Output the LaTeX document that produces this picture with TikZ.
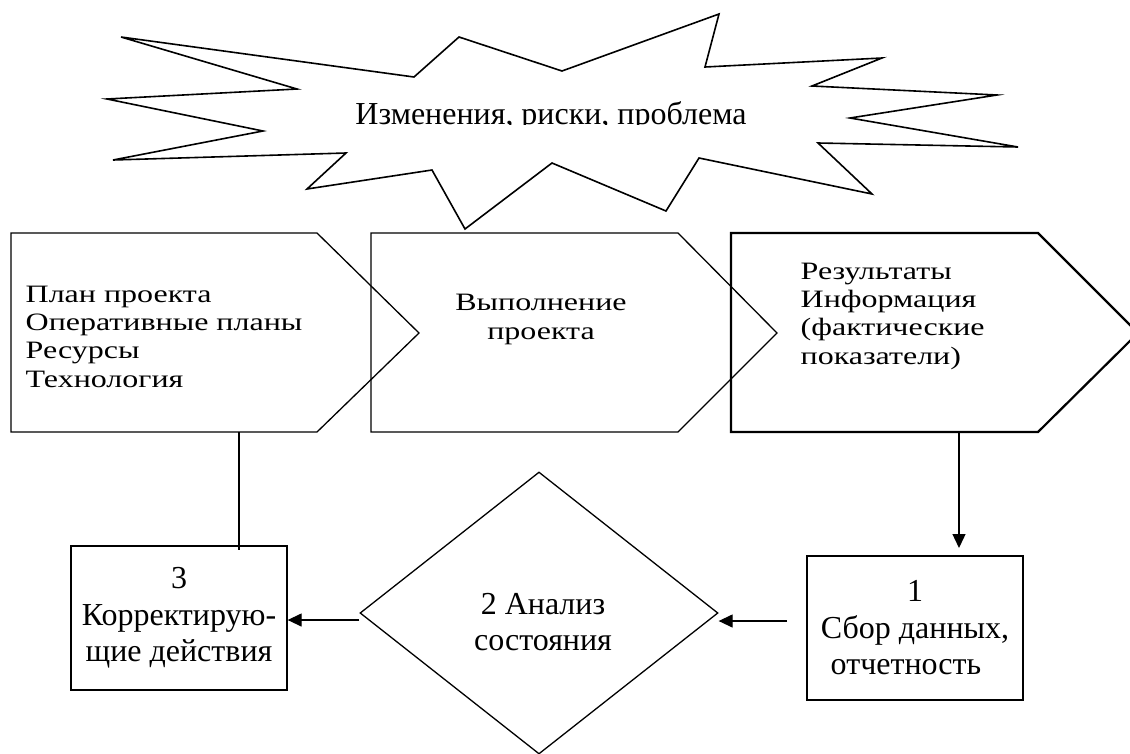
\documentclass[tikz,border=0pt]{standalone}
\usepackage{fontspec}
\setmainfont{Liberation Serif}
\newfontfamily\flatfont[FakeStretch=1.28]{Liberation Serif}
\usetikzlibrary{positioning,arrows.meta,shapes.geometric}

\begin{document}
\begin{tikzpicture}[x=1pt,y=-1pt,line width=1.3pt,
  every node/.style={inner sep=0pt},
  txt/.style={font=\fontsize{32}{36.5}\selectfont,align=center},
  flat/.style={font=\flatfont\fontsize{25}{28.3}\selectfont},
  box/.style={draw,minimum width=216pt,minimum height=144pt,txt},
  arr/.style={-{Triangle[length=14pt,width=13pt]}}]
\useasboundingbox (0,0) rectangle (1130,753);
\clip (0,0) rectangle (1130,753);
\draw[line width=1.6pt] (121,37) -- (414,77) -- (459,37) -- (562,71) -- (719,14)
  -- (705,67) -- (882,58) -- (812,86) -- (997,95) -- (850,118) -- (1018,147)
  -- (818,143) -- (872,194) -- (699,158) -- (666,211) -- (552,163) -- (465,229)
  -- (432,170) -- (307,189) -- (346,153) -- (113,160) -- (263,131) -- (107,99)
  -- (297,89) -- cycle;
\begin{scope}
\clip (0,0) rectangle (1130,124.5);
\node[txt,anchor=base] (risk) at (551,124) {Изменения, риски, проблема};
\end{scope}
\draw (11,233) -- (317,233) -- (419,333) -- (317,432) -- (11,432) -- cycle;
\draw (371,233) -- (678,233) -- (777,333) -- (678,432) -- (371,432) -- cycle;
\draw[line width=2.2pt] (731,233) -- (1038,233) -- (1138,333) -- (1038,432) -- (731,432) -- cycle;
\node[flat,align=left,anchor=base west] (plan) at (25,387) {План проекта\\Оперативные планы\\Ресурсы\\Технология};
\node[flat,align=center,anchor=base] (vyp) at (541,339) {Выполнение\\проекта};
\node[flat,align=left,anchor=base west] (res) at (800,364) {Результаты\\Информация\\(фактические\\показатели)};
\coordinate (planb) at (239,432);
\coordinate (resb) at (959,432);
\node[box] (corr) at (179,618) {3\\Корректирую-\\щие действия};
\node[box,line width=2pt] (sbor) at (915,628) {1\\Сбор данных,\hspace*{20pt}\\отчетность\hspace*{18pt}};
\node[draw,diamond,minimum width=358pt,minimum height=282pt] (anal) at (539,613) {};
\node[txt] (analt) at (543,622) {2 Анализ\\состояния};
\draw (planb) -- ([yshift=-5pt]planb |- corr.north);
\draw[arr] (resb) -- ([yshift=7pt]resb |- sbor.north);
\draw[arr] ([shift={(-19pt,7pt)}]sbor.west) -- ([yshift=-8pt]anal.east);
\draw[arr] ([yshift=-7pt]anal.west) -- ([yshift=-2pt]corr.east);
\end{tikzpicture}
\end{document}
